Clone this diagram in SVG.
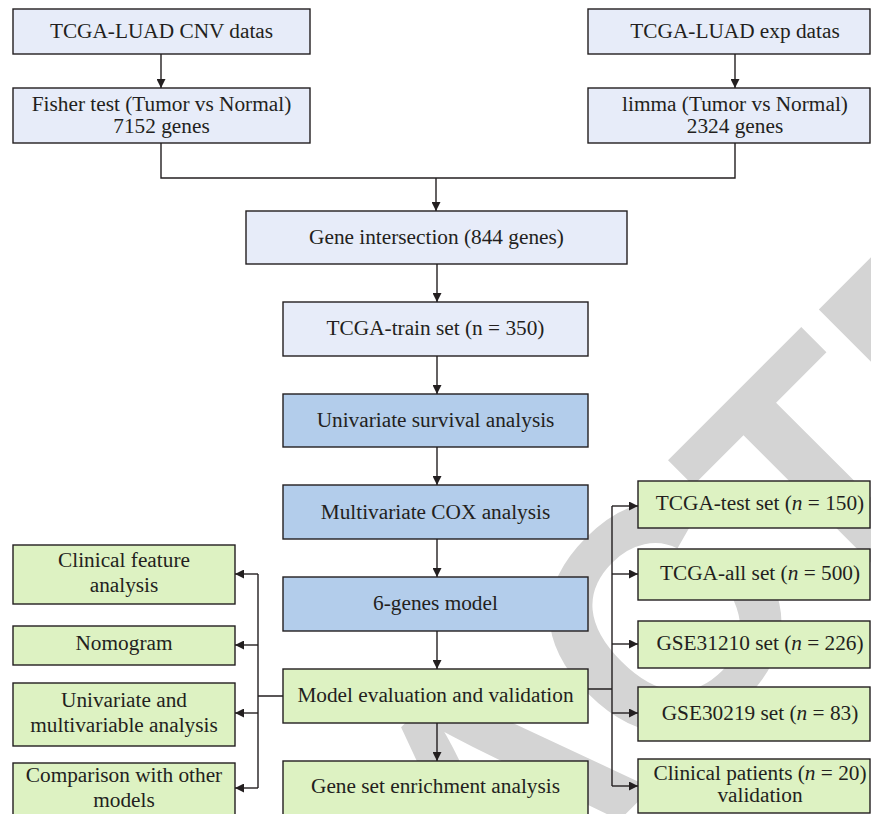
<svg xmlns="http://www.w3.org/2000/svg" width="871" height="814" viewBox="0 0 871 814">
<defs>
<marker id="ah" viewBox="0 0 10 10" refX="10" refY="5" markerWidth="9" markerHeight="9" markerUnits="userSpaceOnUse" orient="auto">
<path d="M0,0 L10,5 L0,10 Z" fill="#231f20"/>
</marker>
</defs>
<style>
.box rect{stroke:#231f20;stroke-width:1.4}
.lav rect{fill:#e7ecf9}
.blue rect{fill:#b3cdeb}
.green rect{fill:#ddf2c2}
text{font-family:"Liberation Serif","Times New Roman",serif;font-size:21.3px;fill:#231f20;text-anchor:middle}
.wm{font-family:"Liberation Sans",Arial,sans-serif;font-weight:bold;font-size:320px;fill:#d4d4d4;text-anchor:start}
#connectors path{fill:none;stroke:#231f20;stroke-width:1.4}
.arr{marker-end:url(#ah)}
</style>
<rect width="871" height="814" fill="#ffffff"/>
<text class="wm" transform="rotate(-45)" x="-1190" y="1018">RETRACTED</text>

<g id="connectors">
<path class="arr" d="M161,54 V88"/>
<path class="arr" d="M735,54 V88"/>
<path d="M161,143 V178 H735 V143"/>
<path class="arr" d="M436,178 V211"/>
<path class="arr" d="M437,264 V302"/>
<path class="arr" d="M437,356 V394"/>
<path class="arr" d="M437,447 V485"/>
<path class="arr" d="M437,539 V577"/>
<path class="arr" d="M437,631 V669"/>
<path class="arr" d="M437,723 V761"/>
<path d="M283,696 H258 M258,574 V788"/>
<path class="arr" d="M258,574 H235"/>
<path class="arr" d="M258,645 H235"/>
<path class="arr" d="M258,713 H235"/>
<path class="arr" d="M258,788 H235"/>
<path d="M588,689 H612 M612,506 V786"/>
<path class="arr" d="M612,506 H638"/>
<path class="arr" d="M612,574 H638"/>
<path class="arr" d="M612,644 H638"/>
<path class="arr" d="M612,713 H638"/>
<path class="arr" d="M612,786 H638"/>
</g>

<g id="cnv" class="box lav"><rect x="13" y="9" width="297" height="45"/><text x="161.5" y="38">TCGA-LUAD CNV datas</text></g>
<g id="fisher" class="box lav"><rect x="13" y="88" width="297" height="55"/><text x="161.5" y="111">Fisher test (Tumor vs Normal)</text><text x="161.5" y="133">7152 genes</text></g>
<g id="exp" class="box lav"><rect x="588" y="9" width="282" height="45"/><text x="735" y="38">TCGA-LUAD exp datas</text></g>
<g id="limma" class="box lav"><rect x="588" y="88" width="282" height="55"/><text x="735" y="111">limma (Tumor vs Normal)</text><text x="735" y="133">2324 genes</text></g>
<g id="intersection" class="box lav"><rect x="246" y="211" width="381" height="53"/><text x="436.5" y="244">Gene intersection (844 genes)</text></g>
<g id="train" class="box lav"><rect x="283" y="302" width="305" height="54"/><text x="435.5" y="335">TCGA-train set (n = 350)</text></g>
<g id="univariate" class="box blue"><rect x="283" y="394" width="305" height="53"/><text x="435.5" y="427">Univariate survival analysis</text></g>
<g id="multivariate" class="box blue"><rect x="283" y="485" width="305" height="54"/><text x="435.5" y="519">Multivariate COX analysis</text></g>
<g id="model" class="box blue"><rect x="283" y="577" width="305" height="54"/><text x="435.5" y="610">6-genes model</text></g>
<g id="evaluation" class="box green"><rect x="283" y="669" width="305" height="54"/><text x="435.5" y="702">Model evaluation and validation</text></g>
<g id="gsea" class="box green"><rect x="283" y="761" width="305" height="60"/><text x="435.5" y="793">Gene set enrichment analysis</text></g>

<g id="clinical-feature" class="box green"><rect x="13" y="545" width="222" height="59"/><text x="124" y="567">Clinical feature</text><text x="124" y="592">analysis</text></g>
<g id="nomogram" class="box green"><rect x="13" y="626" width="222" height="39"/><text x="124" y="650">Nomogram</text></g>
<g id="uni-multi" class="box green"><rect x="13" y="683" width="222" height="63"/><text x="124" y="707">Univariate and</text><text x="124" y="732">multivariable analysis</text></g>
<g id="comparison" class="box green"><rect x="13" y="763" width="222" height="60"/><text x="124" y="782">Comparison with other</text><text x="124" y="807">models</text></g>

<g id="test" class="box green"><rect x="638" y="481" width="232" height="47"/><text x="760" y="510">TCGA-test set (<tspan font-style="italic">n</tspan> = 150)</text></g>
<g id="all" class="box green"><rect x="638" y="549" width="232" height="51"/><text x="760" y="580">TCGA-all set (<tspan font-style="italic">n</tspan> = 500)</text></g>
<g id="gse31210" class="box green"><rect x="638" y="621" width="232" height="47"/><text x="760" y="650">GSE31210 set (<tspan font-style="italic">n</tspan> = 226)</text></g>
<g id="gse30219" class="box green"><rect x="638" y="687" width="232" height="54"/><text x="760" y="720">GSE30219 set (<tspan font-style="italic">n</tspan> = 83)</text></g>
<g id="clinical-patients" class="box green"><rect x="638" y="759" width="232" height="54"/><text x="760" y="780">Clinical patients (<tspan font-style="italic">n</tspan> = 20)</text><text x="760" y="802">validation</text></g>
</svg>
